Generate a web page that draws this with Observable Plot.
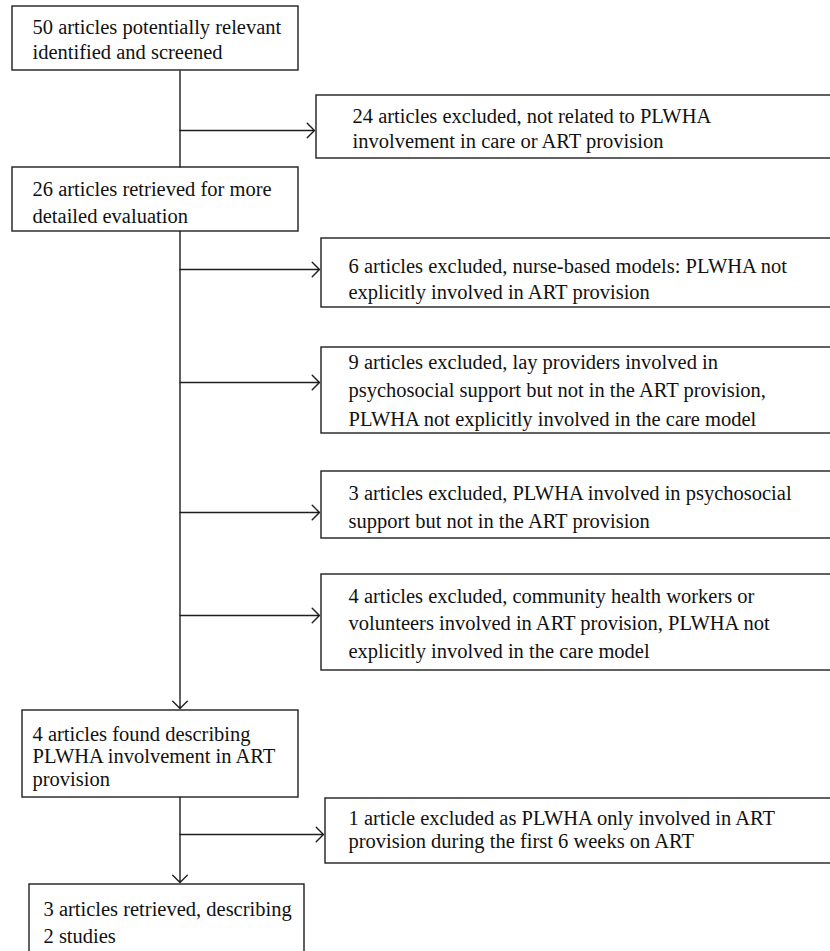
<!DOCTYPE html>
<html>
<head>
<meta charset="utf-8">
<script src="https://cdn.jsdelivr.net/npm/d3@7"></script>
<script src="https://cdn.jsdelivr.net/npm/@observablehq/plot@0.6"></script>
<style>
  html, body { margin: 0; padding: 0; background: #fff; }
  #chart svg { display: block; }
</style>
</head>
<body>
<div id="chart"></div>
<script>
// Flowchart content: one entry per box
const boxLabels = [
  ["50 articles potentially relevant", "identified and screened"],
  ["24 articles excluded, not related to PLWHA", "involvement in care or ART provision"],
  ["26 articles retrieved for more", "detailed evaluation"],
  ["6 articles excluded, nurse-based models: PLWHA not", "explicitly involved in ART provision"],
  ["9 articles excluded, lay providers involved in", "psychosocial support but not in the ART provision,", "PLWHA not explicitly involved in the care model"],
  ["3 articles excluded, PLWHA involved in psychosocial", "support but not in the ART provision"],
  ["4 articles excluded, community health workers or", "volunteers involved in ART provision, PLWHA not", "explicitly involved in the care model"],
  ["4 articles found describing", "PLWHA involvement in ART", "provision"],
  ["1 article excluded as PLWHA only involved in ART", "provision during the first 6 weeks on ART"],
  ["3 articles retrieved, describing", "2 studies"]
];
// Box geometry (pixel coordinates of the diagram)
const boxLeft   = [12, 316, 12, 321, 321, 321, 321, 22, 325, 29];
const boxRight  = [298, 845, 298, 845, 845, 845, 845, 298, 845, 304];
const boxTop    = [6, 95, 167, 238, 347, 471, 574, 710, 798, 884];
const boxBottom = [70, 158, 231, 307, 433, 538, 670, 797, 863, 975];
const textLeft  = [32, 352, 32, 348, 348, 348, 348, 32, 348, 43];
const firstBaseline = [33, 122, 195, 272, 368, 499, 602, 740, 824, 915];
const lineStep  = [25, 25, 27, 26, 28.5, 28, 27.5, 22.5, 23.5, 27];

// Connectors
const trunkX = 179.5;
const trunkSegments = [ // [fromY, toY, arrow?]
  [70, 167, false],
  [231, 708, true],
  [797, 882, true]
];
const branchY = [130, 269, 382, 512, 615, 834];
const branchTarget = [1, 3, 4, 5, 6, 8]; // index of box receiving the branch

const boxes = boxLabels.map((lines, i) => ({
  x1: boxLeft[i], x2: boxRight[i], y1: boxTop[i], y2: boxBottom[i]
}));
const textRows = boxLabels.flatMap((lines, i) =>
  lines.map((t, j) => ({ text: t, x: textLeft[i], y: firstBaseline[i] + j * lineStep[i] }))
);
const plainTrunk = trunkSegments.filter(d => !d[2]).map(d => ({x: trunkX, y1: d[0], y2: d[1]}));
const arrowTrunk = trunkSegments.filter(d => d[2]).map(d => ({x: trunkX, y1: d[0], y2: d[1]}));
const branches = branchY.map((y, i) => ({x1: trunkX, x2: boxLeft[branchTarget[i]] - 2, y}));

const ink = "#1e1e1e";
const chart = Plot.plot({
  width: 830,
  height: 951,
  margin: 0,
  x: {domain: [0, 830], range: [0, 830], axis: null},
  y: {domain: [0, 951], range: [0, 951], axis: null},
  style: {background: "#fff"},
  marks: [
    Plot.rect(boxes, {x1: "x1", x2: "x2", y1: "y1", y2: "y2", fill: "#fff", stroke: ink, strokeWidth: 1.4}),
    Plot.link(plainTrunk, {x1: "x", x2: "x", y1: "y1", y2: "y2", stroke: ink, strokeWidth: 1.4}),
    Plot.arrow(arrowTrunk, {x1: "x", x2: "x", y1: "y1", y2: "y2", stroke: ink, strokeWidth: 1.4, headAngle: 90, headLength: 11, insetEnd: 0}),
    Plot.arrow(branches, {x1: "x1", x2: "x2", y1: "y", y2: "y", stroke: ink, strokeWidth: 1.4, headAngle: 90, headLength: 11, insetEnd: 0}),
    Plot.text(textRows, {x: "x", y: "y", text: "text", textAnchor: "start", lineAnchor: "bottom",
      fontFamily: "'Liberation Serif', 'DejaVu Serif', serif", fontSize: 20.5, fill: "#111"})
  ]
});
document.getElementById("chart").appendChild(chart);
</script>
</body>
</html>
